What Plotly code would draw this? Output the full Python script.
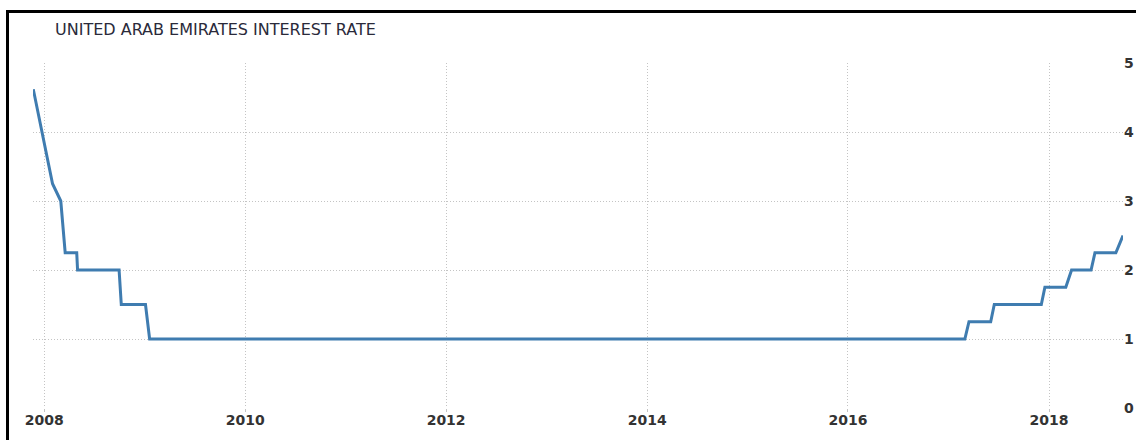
import plotly.graph_objects as go

title_text = "UNITED ARAB EMIRATES INTEREST RATE"
dates = ["2007-11-22", "2008-01-31", "2008-03-01", "2008-03-17", "2008-04-28",
         "2008-05-01", "2008-09-29", "2008-10-07", "2009-01-03", "2009-01-18",
         "2017-03-01", "2017-03-16", "2017-06-03", "2017-06-16", "2017-12-04",
         "2017-12-17", "2018-03-03", "2018-03-24", "2018-06-03", "2018-06-17",
         "2018-09-01", "2018-09-27"]
rates = [4.62, 3.25, 3.0, 2.25, 2.25, 2.0, 2.0, 1.5, 1.5, 1.0,
         1.0, 1.25, 1.25, 1.5, 1.5, 1.75, 1.75, 2.0, 2.0, 2.25,
         2.25, 2.5]
x_range = ["2007-11-21", "2018-09-27"]
y_range = [0, 5]
y_ticks = [0, 1, 2, 3, 4, 5]

W, H = 1136, 440
L, R, T, B = 33, 13, 63, 32
pw, ph = W - L - R, H - T - B

fig = go.Figure()
fig.add_trace(go.Scatter(
    x=dates, y=rates, mode="lines",
    line=dict(color="#3f7cb0", width=3),
    hoverinfo="x+y", showlegend=False,
))

def px_x(p):
    return (p - L) / pw

def px_y(p):
    return (H - B - p) / ph

grid_color = "#c4c4c4"
grid_dash = "1px,2px"

fig.update_layout(
    width=W, height=H,
    margin=dict(l=L, r=R, t=T, b=B, pad=0),
    paper_bgcolor="white", plot_bgcolor="white",
    font=dict(family="DejaVu Sans", color="#333333"),
    title=dict(text=title_text, x=55 / W, xanchor="left", y=1 - 29 / H, yanchor="middle",
               font=dict(family="DejaVu Sans", size=16, color="#2a2a3a")),
    xaxis=dict(
        type="date", range=x_range, automargin=False,
        tick0="2008-01-01", dtick="M24", tickformat="%Y",
        showgrid=True, gridcolor=grid_color, griddash=grid_dash, gridwidth=1,
        ticks="outside", ticklen=3, tickcolor=grid_color, ticklabelstandoff=-4,
        showline=False, zeroline=False,
        tickfont=dict(family="DejaVu Sans", size=14, color="#333333", weight="bold"),
    ),
    yaxis=dict(
        side="right", range=y_range, tickvals=y_ticks, automargin=False,
        showgrid=True, gridcolor=grid_color, griddash=grid_dash, gridwidth=1,
        showline=False, zeroline=False,
        ticks="",
        tickfont=dict(family="DejaVu Sans", size=14, color="#333333", weight="bold"),
    ),
    shapes=[
        dict(type="line", xref="paper", yref="paper",
             x0=px_x(6), x1=px_x(W + 5), y0=px_y(11.5), y1=px_y(11.5),
             line=dict(color="black", width=3)),
        dict(type="line", xref="paper", yref="paper",
             x0=px_x(7.5), x1=px_x(7.5), y0=px_y(10), y1=px_y(H + 5),
             line=dict(color="black", width=3)),
    ],
)

fig.write_html("out.html", config={"displayModeBar": False},
               post_script="document.body.style.margin='0';document.body.style.overflow='hidden';")
